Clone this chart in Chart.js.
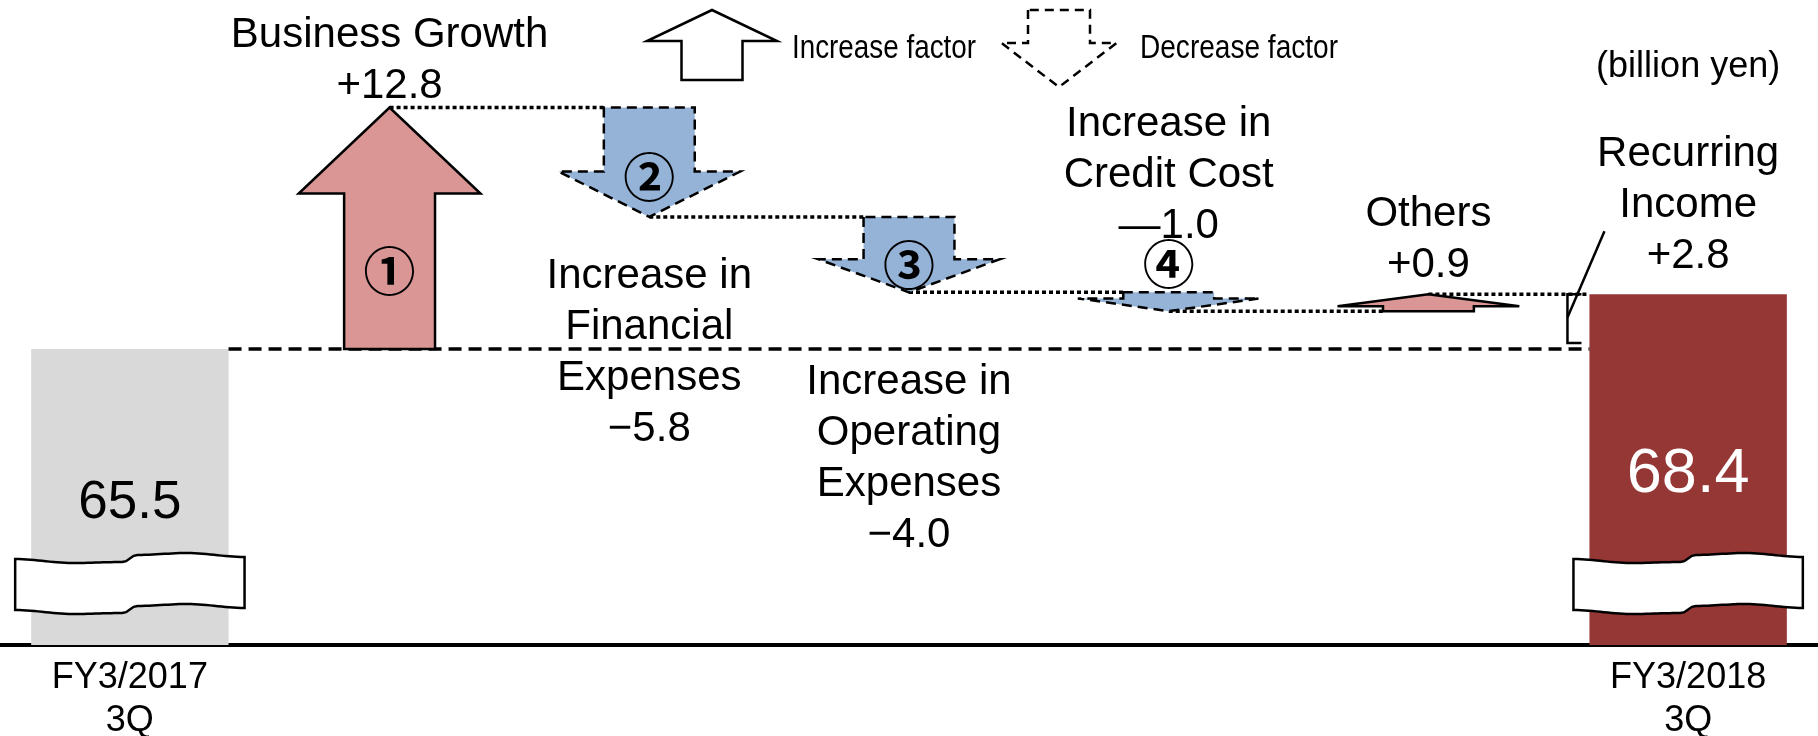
<!DOCTYPE html>
<html lang="en">
<head>
<meta charset="UTF-8">
<title>Recurring Income Bridge</title>
<script src="https://cdn.jsdelivr.net/npm/chart.js"></script>
<style>
  body { margin: 0; background: #fff; }
</style>
</head>
<body>
<canvas id="bridgeChart" width="1818" height="736"></canvas>
<script>
// data (billion yen)
const categories = ['FY3/2017 3Q', 'Business Growth', 'Increase in Financial Expenses',
  'Increase in Operating Expenses', 'Increase in Credit Cost', 'Others', 'FY3/2018 3Q'];
const tickLabels = [['FY3/2017', '3Q'], '', '', '', '', '', ['FY3/2018', '3Q']];
const totals = [65.5, null, null, null, null, null, 68.4];
const changes = [null, 12.8, -5.8, -4.0, -1.0, 0.9, null];
const factorMarks = ['', '①', '②', '③', '④', '', ''];
const stepLabels = [
  [],
  ['Business Growth', '+12.8'],
  ['Increase in', 'Financial', 'Expenses', '−5.8'],
  ['Increase in', 'Operating', 'Expenses', '−4.0'],
  ['Increase in', 'Credit Cost', '—1.0'],
  ['Others', '+0.9'],
  ['Recurring', 'Income', '+2.8']
];
const unitLabel = '(billion yen)';
const legendLabels = ['Increase factor', 'Decrease factor'];

// styles
const FONT = '"Liberation Sans", Arial, sans-serif';
const totalColors = ['#d9d9d9', null, null, null, null, null, '#953735'];
const upColor = '#d99694';
const downColor = '#95b3d7';
// label block: offset of first/last baseline from the arrow anchor
const labelOffsets = [0, -10, 71, 102, -54, -17, -26];

function arrowPath(ctx, cx, yFrom, yTo, shaftW, headW, head) {
  const dir = yTo < yFrom ? 1 : -1;
  const hb = yTo + dir * head;
  ctx.beginPath();
  ctx.moveTo(cx - shaftW / 2, yFrom);
  ctx.lineTo(cx - shaftW / 2, hb);
  ctx.lineTo(cx - headW / 2, hb);
  ctx.lineTo(cx, yTo);
  ctx.lineTo(cx + headW / 2, hb);
  ctx.lineTo(cx + shaftW / 2, hb);
  ctx.lineTo(cx + shaftW / 2, yFrom);
  ctx.closePath();
  return hb;
}

// wavy "axis break" ribbon
const breakKeys = [[0, 7], [0.25, 11], [0.47, 10], [0.53, 3], [0.75, 1], [1, 5]];
function breakOffset(u) {
  for (let k = 1; k < breakKeys.length; k++) {
    const [u0, v0] = breakKeys[k - 1], [u1, v1] = breakKeys[k];
    if (u <= u1) {
      const t = (u - u0) / (u1 - u0);
      return v0 + (v1 - v0) * (1 - Math.cos(Math.PI * t)) / 2;
    }
  }
  return breakKeys[breakKeys.length - 1][1];
}
function drawBreak(ctx, left, right, top) {
  const w = right - left, n = 60, gap = 51;
  ctx.beginPath();
  for (let i = 0; i <= n; i++) {
    const u = i / n;
    if (i === 0) ctx.moveTo(left, top + breakOffset(0));
    else ctx.lineTo(left + u * w, top + breakOffset(u));
  }
  for (let i = n; i >= 0; i--) {
    const u = i / n;
    ctx.lineTo(left + u * w, top + gap + breakOffset(u));
  }
  ctx.closePath();
  ctx.fillStyle = '#fff';
  ctx.fill();
  ctx.setLineDash([]);
  ctx.lineWidth = 2.5;
  ctx.strokeStyle = '#000';
  ctx.stroke();
}

function drawLines(ctx, lines, cx, firstBaseline, gap) {
  lines.forEach((t, k) => ctx.fillText(t, cx, firstBaseline + k * gap));
}

// squeeze text to a given width (narrow legend font)
function fitText(ctx, text, x, y, width) {
  const w = ctx.measureText(text).width;
  ctx.save();
  ctx.translate(x, y);
  ctx.scale(width / w, 1);
  ctx.fillText(text, 0, 0);
  ctx.restore();
}

const bridgePlugin = {
  id: 'bridge',
  afterDatasetsDraw(chart) {
    const { ctx, chartArea, scales: { x, y } } = chart;
    const bars = chart.getDatasetMeta(0).data;
    const slot = x.getPixelForValue(1) - x.getPixelForValue(0);
    const shaftW = slot * 0.35, headW = slot * 0.70;
    const baseY = y.getPixelForValue(totals[0]);
    const first = bars[0], last = bars[bars.length - 1];
    const firstRight = first.x + first.width / 2;
    const lastLeft = last.x - last.width / 2;
    const lastTop = y.getPixelForValue(totals[totals.length - 1]);

    ctx.save();
    ctx.strokeStyle = '#000';

    // dashed starting level
    ctx.lineWidth = 3.5;
    ctx.setLineDash([13, 7]);
    ctx.beginPath();
    ctx.moveTo(firstRight, baseY);
    ctx.lineTo(lastLeft, baseY);
    ctx.stroke();

    // steps
    const steps = [];
    let run = totals[0];
    changes.forEach((d, i) => {
      if (d === null) return;
      const from = run;
      run = +(run + d).toFixed(1);
      steps.push({ i, d, cx: x.getPixelForValue(i), y0: y.getPixelForValue(from), y1: y.getPixelForValue(run) });
    });

    // dotted connectors
    ctx.lineWidth = 3.5;
    ctx.setLineDash([4, 3]);
    steps.forEach((s, k) => {
      const endX = k < steps.length - 1 ? steps[k + 1].cx - shaftW / 2 : lastLeft;
      ctx.beginPath();
      ctx.moveTo(s.cx, s.y1);
      ctx.lineTo(endX, s.y1);
      ctx.stroke();
    });

    // arrows
    steps.forEach(s => {
      const len = Math.abs(s.y1 - s.y0);
      const head = Math.min(86, len * 0.36 + 6);
      const up = s.d > 0;
      s.hb = arrowPath(ctx, s.cx, s.y0, s.y1, shaftW, headW, head);
      ctx.fillStyle = up ? upColor : downColor;
      ctx.fill();
      ctx.setLineDash(up ? [] : [10, 6]);
      ctx.lineWidth = 2.5;
      ctx.stroke();
    });

    // step labels
    ctx.fillStyle = '#000';
    ctx.textAlign = 'center';
    ctx.textBaseline = 'alphabetic';
    ctx.font = '42px ' + FONT;
    const gap = 51;
    steps.forEach(s => {
      const lines = stepLabels[s.i];
      const off = labelOffsets[s.i];
      if (s.d > 0 || s.i === 4) {
        const anchor = s.d > 0 ? s.y1 : s.y0;
        drawLines(ctx, lines, s.cx, anchor + off - (lines.length - 1) * gap, gap);
      } else {
        drawLines(ctx, lines, s.cx, s.y1 + off, gap);
      }
    });

    // circled factor numbers
    ctx.font = '700 52px "Noto Sans CJK JP", "DejaVu Sans", sans-serif';
    ctx.textBaseline = 'middle';
    steps.forEach(s => {
      const mark = factorMarks[s.i];
      if (!mark) return;
      let cy;
      if (s.d > 0) cy = (s.y0 + s.hb) / 2;
      else if (Math.abs(s.y1 - s.y0) > 50) cy = s.hb + 6;
      else cy = s.y0 - 28;
      ctx.fillText(mark, s.cx, cy);
    });

    // bracket for the total change
    const bx = lastLeft - 22;
    const bTop = lastTop, bBot = baseY - 6;
    ctx.setLineDash([]);
    ctx.lineWidth = 2.5;
    ctx.beginPath();
    ctx.moveTo(bx + 14, bTop);
    ctx.lineTo(bx, bTop);
    ctx.lineTo(bx, bBot);
    ctx.lineTo(bx + 14, bBot);
    ctx.stroke();
    ctx.beginPath();
    ctx.moveTo(bx, bTop + (bBot - bTop) * 0.48);
    ctx.lineTo(bx + 37, bTop - 63);
    ctx.stroke();

    // total label
    ctx.font = '42px ' + FONT;
    ctx.textBaseline = 'alphabetic';
    const tl = stepLabels[stepLabels.length - 1];
    drawLines(ctx, tl, last.x, lastTop + labelOffsets[6] - (tl.length - 1) * gap, gap);

    // unit
    ctx.font = '36px ' + FONT;
    ctx.fillText(unitLabel, last.x, 77);

    // axis breaks and total values
    [first, last].forEach(b => {
      drawBreak(ctx, b.x - b.width / 2 - 16, b.x + b.width / 2 + 16, chartArea.bottom - 93);
    });
    ctx.fillStyle = '#000';
    ctx.font = '53px ' + FONT;
    ctx.fillText(totals[0].toFixed(1), first.x, chartArea.bottom - 127);
    ctx.fillStyle = '#fff';
    ctx.font = '63px ' + FONT;
    ctx.fillText(totals[totals.length - 1].toFixed(1), last.x, chartArea.bottom - 153);

    // legend
    ctx.strokeStyle = '#000';
    ctx.lineWidth = 2.5;
    ctx.fillStyle = '#fff';
    arrowPath(ctx, 712, 80, 10, 61, 130, 31);
    ctx.setLineDash([]);
    ctx.fill();
    ctx.stroke();
    arrowPath(ctx, 1059, 10, 87, 62, 115, 44);
    ctx.setLineDash([9, 6]);
    ctx.fill();
    ctx.stroke();
    ctx.fillStyle = '#000';
    ctx.textAlign = 'left';
    ctx.font = '33px ' + FONT;
    fitText(ctx, legendLabels[0], 792, 58, 184);
    fitText(ctx, legendLabels[1], 1140, 58, 198);

    ctx.restore();
  }
};

const ctx = document.getElementById('bridgeChart').getContext('2d');
new Chart(ctx, {
  type: 'bar',
  data: {
    labels: tickLabels,
    datasets: [{
      label: 'Recurring income',
      data: totals,
      backgroundColor: totalColors,
      barPercentage: 0.76,
      categoryPercentage: 1
    }]
  },
  options: {
    responsive: false,
    animation: false,
    layout: { padding: 0 },
    plugins: {
      legend: { display: false },
      tooltip: { enabled: false }
    },
    scales: {
      x: {
        grid: { display: false },
        border: { display: true, color: '#000', width: 4 },
        ticks: {
          color: '#000',
          autoSkip: false,
          maxRotation: 0,
          padding: 3,
          font: { family: FONT, size: 36, lineHeight: 1.2 }
        },
        afterFit(scale) { scale.height = 91; }
      },
      y: {
        display: false,
        min: 49.8,
        max: 84
      }
    }
  },
  plugins: [bridgePlugin]
});
</script>
</body>
</html>
